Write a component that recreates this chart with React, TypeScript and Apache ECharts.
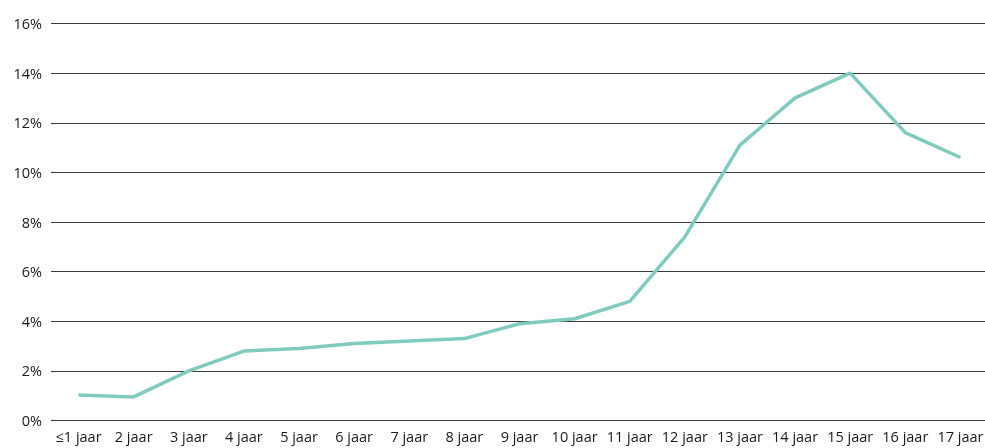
import React, { useEffect, useRef } from "react";
import * as echarts from "echarts";

const categories = [
  "≤1 jaar", "2 jaar", "3 jaar", "4 jaar", "5 jaar", "6 jaar", "7 jaar", "8 jaar", "9 jaar",
  "10 jaar", "11 jaar", "12 jaar", "13 jaar", "14 jaar", "15 jaar", "16 jaar", "17 jaar",
];
const values = [1.03, 0.95, 2.0, 2.8, 2.9, 3.1, 3.2, 3.3, 3.9, 4.1, 4.8, 7.4, 11.1, 13.0, 14.0, 11.6, 10.6];
const yMin = 0;
const yMax = 16;
const yInterval = 2;

export default function App() {
  const ref = useRef<HTMLDivElement>(null);
  useEffect(() => {
    if (!ref.current) return;
    const chart = echarts.init(ref.current, null, { renderer: "svg" });
    const font = "'Open Sans', 'Noto Sans', sans-serif";
    chart.setOption({
      animation: false,
      grid: { left: 51, right: 0, top: 23.5, bottom: 27.5, containLabel: false },
      xAxis: {
        type: "category",
        data: categories,
        boundaryGap: true,
        axisLine: { show: false },
        axisTick: { show: false },
        axisLabel: { interval: 0, color: "#1a1a1a", fontFamily: font, fontSize: 14.5, margin: 8 },
      },
      yAxis: {
        type: "value",
        min: yMin,
        max: yMax,
        interval: yInterval,
        axisLine: { show: false },
        axisTick: { show: false },
        axisLabel: { formatter: "{value}%", color: "#1a1a1a", fontFamily: font, fontSize: 14.5, margin: 9 },
        splitLine: { show: true, lineStyle: { color: "#3a3a3a", width: 1 } },
      },
      series: [
        {
          type: "line",
          data: values,
          symbol: "none",
          lineStyle: { color: "#80cbbf", width: 3.5 },
        },
      ],
    });
    return () => chart.dispose();
  }, []);
  return (
    <div style={{ position: "fixed", left: 0, top: 0, width: 985, height: 448, overflow: "hidden" }}>
      <div ref={ref} style={{ width: 988, height: 448 }} />
    </div>
  );
}
